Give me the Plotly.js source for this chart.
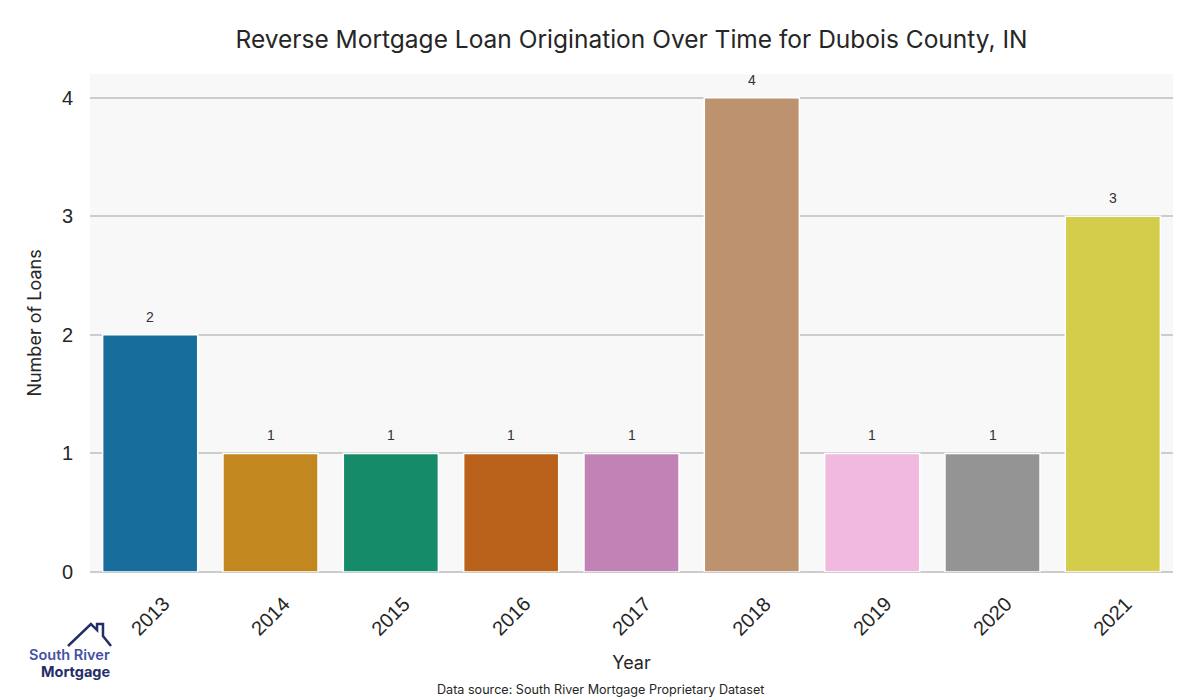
<!DOCTYPE html>
<html>
<head>
<meta charset="utf-8">
<script src="https://cdn.plot.ly/plotly-3.0.1.min.js"></script>
<style>html,body{margin:0;padding:0;background:#fff;}#chart{width:1200px;height:700px;}</style>
</head>
<body>
<div id="chart"></div>
<script>
const years = ["2013","2014","2015","2016","2017","2018","2019","2020","2021"];
const loans = [2, 1, 1, 1, 1, 4, 1, 1, 3];
const barColors = ["#176e9c","#c38720","#168b6a","#ba611b","#c183b6","#bd926e","#f1b9e0","#949494","#d4cc4b"];

const W = 1200, H = 700, mL = 90, mR = 27, mT = 74, mB = 128;
const pw = W - mL - mR, ph = H - mT - mB;
const px = x => (x - mL) / pw;
const py = y => (H - mB - y) / ph;

const housePts = [[68,646],[91,624],[97,630],[97,624],[103,624],[103,636],[111,646]];
const housePath = "M" + housePts.map(p => px(p[0]).toFixed(4) + "," + py(p[1]).toFixed(4)).join(" L");

const trace = {
  type: "bar",
  x: years,
  y: loans,
  marker: {color: barColors, line: {color: "#ffffff", width: 1.5}},
  hoverinfo: "x+y"
};

// category index positions for annotations
const valueLabels = years.map((yr, i) => ({
  text: String(loans[i]), x: i, y: loans[i], xref: "x", yref: "y",
  xanchor: "center", yanchor: "bottom", yshift: 8, showarrow: false,
  font: {family: "Liberation Sans, Arial, sans-serif", size: 14, color: "#333333"}
}));

const tickLabels = years.map((yr, i) => ({
  text: yr, x: i, y: py(616), xref: "x", yref: "paper",
  xanchor: "center", yanchor: "middle", textangle: -45, showarrow: false,
  font: {family: "Liberation Sans, Arial, sans-serif", size: 20, color: "#262626"}
}));

const layout = {
  width: W, height: H,
  margin: {l: mL, r: mR, t: mT, b: mB},
  paper_bgcolor: "#ffffff",
  plot_bgcolor: "#f8f8f8",
  bargap: 0.21,
  showlegend: false,
  title: {text: "Reverse Mortgage Loan Origination Over Time for Dubois County, IN",
          font: {family: "Inter, Lato, sans-serif", size: 24.5, color: "#262626"},
          xref: "paper", x: 0.5, xanchor: "center", y: 0.943, yanchor: "middle"},
  xaxis: {
    type: "category",
    range: [-0.5, years.length - 0.5],
    autorange: false,
    showticklabels: false,
    showgrid: false, ticks: "", showline: false,
    title: {text: "Year", font: {family: "Inter, Lato, sans-serif", size: 18, color: "#262626"}, standoff: 84}
  },
  yaxis: {
    range: [0, 4.2],
    autorange: false,
    tickvals: [0,1,2,3,4],
    tickfont: {family: "Liberation Sans, Arial, sans-serif", size: 20, color: "#262626"},
    ticklabelstandoff: 16,
    showgrid: true, gridcolor: "#cccccc", gridwidth: 2,
    zeroline: true, zerolinecolor: "#cccccc", zerolinewidth: 2,
    ticks: "", ticklen: 0, showline: false,
    title: {text: "Number of Loans", font: {family: "Inter, Lato, sans-serif", size: 18, color: "#262626"}, standoff: 15}
  },
  shapes: [{
    type: "path", xref: "paper", yref: "paper", path: housePath,
    line: {color: "#252e66", width: 2.5}, fillcolor: "rgba(0,0,0,0)"
  }],
  annotations: valueLabels.concat(tickLabels).concat([
    {text: "Data source: South River Mortgage Proprietary Dataset", xref: "paper", yref: "paper",
     x: px(600), y: py(689), xanchor: "center", yanchor: "middle", showarrow: false,
     font: {family: "Inter, Lato, sans-serif", size: 12.6, color: "#262626"}},
    {text: "South River", xref: "paper", yref: "paper", x: px(111), y: py(654),
     xanchor: "right", yanchor: "middle", showarrow: false, borderpad: 0,
     font: {family: "Inter, Lato, sans-serif", size: 14.5, color: "#4452a4", weight: 600}},
    {text: "Mortgage", xref: "paper", yref: "paper", x: px(111), y: py(671),
     xanchor: "right", yanchor: "middle", showarrow: false, borderpad: 0,
     font: {family: "Inter, Lato, sans-serif", size: 14.5, color: "#252e66", weight: 700}}
  ])
};

Plotly.newPlot("chart", [trace], layout, {displayModeBar: false, staticPlot: true});
</script>
</body>
</html>
